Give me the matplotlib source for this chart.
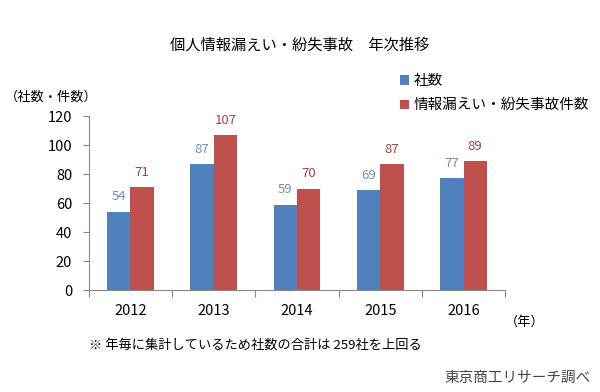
import matplotlib
matplotlib.use("Agg")
import matplotlib.pyplot as plt
import numpy as np

plt.rcParams['font.family'] = ['Noto Sans CJK JP', 'DejaVu Sans']

years = ["2012", "2013", "2014", "2015", "2016"]
companies = [54, 87, 59, 69, 77]
incidents = [71, 107, 70, 87, 89]
labels = ["社数", "情報漏えい・紛失事故件数"]

blue = "#4F81BD"
red = "#C0504D"

fig = plt.figure(figsize=(6, 3.92), dpi=100)
ax = fig.add_axes([0.148, 0.26, 0.694, 0.444])

x = np.arange(len(years))
w = 0.28
b1 = ax.bar(x - w / 2, companies, w, color=blue, label=labels[0])
b2 = ax.bar(x + w / 2, incidents, w, color=red, label=labels[1])

for rect, v in zip(b1, companies):
    ax.annotate(str(v), (rect.get_x() + rect.get_width() / 2, v), xytext=(0, 6),
                textcoords="offset points", ha="center", va="bottom",
                fontsize=9.5, color="#6f8fb0")
for rect, v in zip(b2, incidents):
    ax.annotate(str(v), (rect.get_x() + rect.get_width() / 2, v), xytext=(0, 6),
                textcoords="offset points", ha="center", va="bottom",
                fontsize=9.5, color="#a8403e")

ax.set_xlim(-0.5, len(years) - 0.5)
ax.set_ylim(0, 120)
ax.set_yticks(range(0, 121, 20))
ax.tick_params(axis="y", labelsize=10.5, length=4, color="#888888", pad=8)
ax.set_xticks(np.arange(-0.5, len(years), 1))
ax.set_xticklabels([])
ax.set_xticks(x, minor=True)
ax.set_xticklabels(years, minor=True)
ax.tick_params(axis="x", which="major", length=5, color="#888888")
ax.tick_params(axis="x", which="minor", length=0, labelsize=10.5, pad=10)

for s in ["top", "right"]:
    ax.spines[s].set_visible(False)
for s in ["left", "bottom"]:
    ax.spines[s].set_color("#888888")

fig.legend(loc="center left", bbox_to_anchor=(0.655, 0.762), frameon=False,
           fontsize=10.5, handlelength=0.6, handleheight=0.6, handletextpad=0.3,
           labelspacing=0.7, borderpad=0)

fig.text(0.5, 0.885, "個人情報漏えい・紛失事故　年次推移", ha="center", va="center", fontsize=11)
fig.text(0.085, 0.752, "（社数・件数）", ha="center", va="center", fontsize=9.5)
fig.text(0.875, 0.178, "（年）", ha="center", va="center", fontsize=9.5)
fig.text(0.148, 0.12, "※ 年毎に集計しているため社数の合計は 259社を上回る", ha="left", va="center", fontsize=9.5)
fig.text(0.985, 0.035, "東京商工リサーチ調べ", ha="right", va="center", fontsize=10.5, color="#444444")

fig.savefig("out.png", dpi=100)
